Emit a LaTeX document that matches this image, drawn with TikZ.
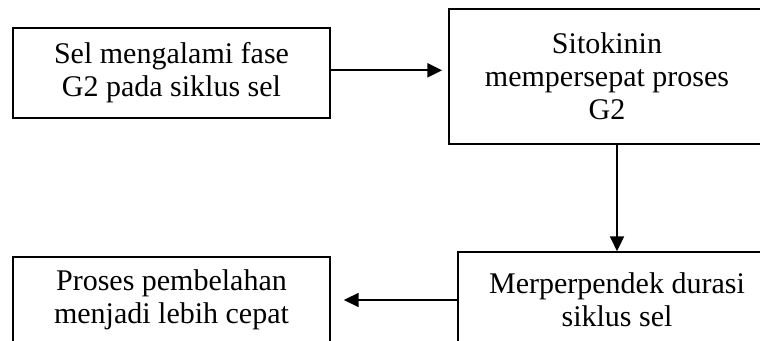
\documentclass[tikz,border=0pt]{standalone}
\usepackage{fontspec}
\setmainfont{Liberation Serif}
\usetikzlibrary{arrows.meta}

\begin{document}
\begin{tikzpicture}[x=0.75pt,y=-0.75pt,line width=1.3pt,>={Triangle[length=11pt,width=10.5pt]}]
    \tikzstyle{stepbox}=[draw=black, rectangle, inner sep=0pt, align=flush center, text=black,
        font=\fontsize{22.5}{24.75}\selectfont]
    \tikzstyle{link}=[->,line width=1.3pt]

    \useasboundingbox (0,0) rectangle (760,341);
    \clip (0,0) rectangle (760,341);

    \node[stepbox, text width=237.75pt, minimum height=67.5pt]  (sel)    at (171.5,73)  {Sel mengalami fase\\G2 pada siklus sel};
    \node[stepbox, text width=237pt,    minimum height=101.25pt] (sito)   at (607,76.5)  {Sitokinin\\mempersepat proses\\G2};
    \node[stepbox, text width=238.5pt,  minimum height=72pt]    (durasi) at (617,300)   {Merperpendek durasi\\siklus sel};
    \node[stepbox, text width=237.75pt, minimum height=64.5pt]  (proses) at (171.5,300) {Proses pembelahan\\menjadi lebih cepat};

    \draw[link, shorten >=4.5pt] ([yshift=2pt]sel.east) -- ([yshift=2pt]sel.east -| sito.west);
    \draw[link] (sito.south -| durasi.north) -- (durasi.north);
    \draw[link, shorten >=9.75pt] (durasi.west) -- (durasi.west -| proses.east);
\end{tikzpicture}
\end{document}
